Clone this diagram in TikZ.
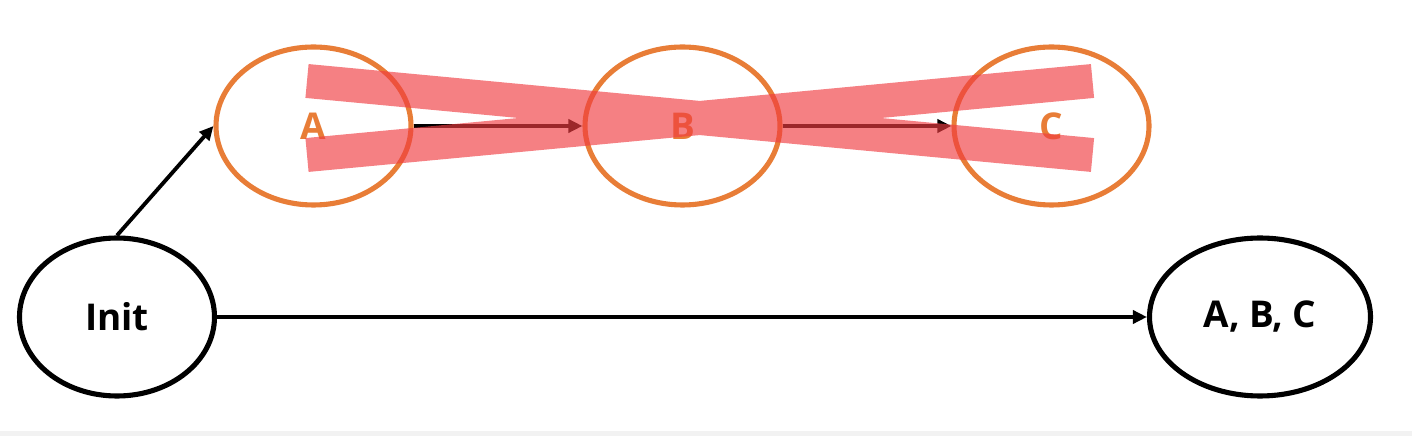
\documentclass[tikz,border=0pt]{standalone}
\usepackage{fontspec}
\setmainfont{Open Sans}
\usetikzlibrary{shapes,shapes.geometric,arrows,arrows.meta,calc,positioning}
\definecolor{stateorange}{RGB}{232,125,55}
\definecolor{crossred}{RGB}{240,60,65}
\tikzset{state/.style={draw,ellipse,line width=2.9pt,inner sep=0pt,minimum width=3.9cm,minimum height=3.16cm,font=\fontsize{21}{24}\selectfont\bfseries}}
\tikzset{oldstate/.style={state,draw=stateorange,text=stateorange}}

\begin{document}
\begin{tikzpicture}[>={Triangle[length=2.8mm,width=2.6mm]}, line width=2.2pt, node distance=7.38cm]
\fill[black!5] (0,0) rectangle (28.24,0.1);
\useasboundingbox (0,0) rectangle (28.24,8.72);
\node[state] (Init) at (2.34,2.38) {Init};
\node[state, minimum width=4.42cm] (ABC) at (25.2,2.38) {A, B, C};
\node[oldstate] (A) at (6.27,6.2) {A};
\node[oldstate][right of =A] (B) {B};
\node[oldstate][right of =B] (C) {C};
\draw[->] (Init.north) -- (A.west);
\draw[->] (A) -- (B);
\draw[->] (B) -- (C);
\draw[->] (Init) -- (ABC);
% cross over the chain
\draw[crossred, opacity=0.65, line width=0.68cm]
  ($(A)+(-0.13,0.9)$) -- ($(C)+(0.82,-0.58)$)
  ($(A)+(-0.13,-0.58)$) -- ($(C)+(0.82,0.9)$);
\end{tikzpicture}
\end{document}
